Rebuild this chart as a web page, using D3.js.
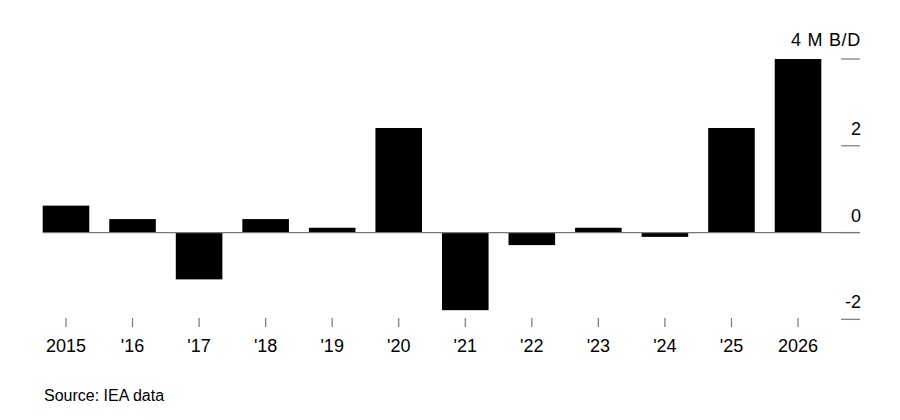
<!DOCTYPE html>
<html>
<head>
<meta charset="utf-8">
<script src="https://cdn.jsdelivr.net/npm/d3@7"></script>
<style>
  html, body { margin: 0; padding: 0; background: #fff; }
  svg { display: block; font-family: "Liberation Sans", Arial, Helvetica, sans-serif; }
</style>
</head>
<body>
<svg id="chart" width="900" height="420"></svg>
<script>
const years = ["2015", "'16", "'17", "'18", "'19", "'20", "'21", "'22", "'23", "'24", "'25", "2026"];
const values = [0.62, 0.31, -1.08, 0.31, 0.11, 2.41, -1.79, -0.29, 0.11, -0.1, 2.41, 4.0];
const yTicks = [4, 2, 0, -2];
const yTickLabels = ["4 M B/D", "2", "0", "-2"];
const source = "Source: IEA data";

const svg = d3.select("#chart");

const x = d3.scaleBand().domain(years).range([42.7, 821.3]).paddingInner(0.3).paddingOuter(0);
const y = d3.scaleLinear().domain([-2, 4]).range([319.3, 59]);

// bars
svg.append("g").selectAll("rect").data(values).join("rect")
  .attr("x", (d, i) => x(years[i]))
  .attr("width", x.bandwidth())
  .attr("y", d => y(Math.max(0, d)))
  .attr("height", d => Math.abs(y(d) - y(0)))
  .attr("fill", "#000");

// zero line
svg.append("line")
  .attr("x1", 42.7).attr("x2", 860)
  .attr("y1", y(0)).attr("y2", y(0))
  .attr("stroke", "#777").attr("stroke-width", 1.2);

// right y-axis ticks
const yg = svg.append("g");
yg.selectAll("line").data(yTicks).join("line")
  .attr("x1", 841).attr("x2", 860)
  .attr("y1", d => y(d)).attr("y2", d => y(d))
  .attr("stroke", "#777").attr("stroke-width", 1.2);
yg.selectAll("text").data(yTicks).join("text")
  .attr("x", 861)
  .attr("y", (d, i) => y(d) - (i === 0 ? 13 : 11))
  .attr("text-anchor", "end")
  .attr("font-size", 18)
  .attr("letter-spacing", (d, i) => i === 0 ? 0.7 : 0)
  .attr("fill", "#000")
  .text((d, i) => yTickLabels[i]);

// x-axis ticks and labels
const xg = svg.append("g");
xg.selectAll("line").data(years).join("line")
  .attr("x1", d => x(d) + x.bandwidth() / 2)
  .attr("x2", d => x(d) + x.bandwidth() / 2)
  .attr("y1", 318).attr("y2", 327)
  .attr("stroke", "#777").attr("stroke-width", 1.2);
xg.selectAll("text").data(years).join("text")
  .attr("x", d => x(d) + x.bandwidth() / 2)
  .attr("y", 352)
  .attr("text-anchor", "middle")
  .attr("font-size", 18)
  .attr("fill", "#000")
  .text(d => d);

svg.append("text")
  .attr("x", 44).attr("y", 401)
  .attr("font-size", 16)
  .attr("fill", "#000")
  .text(source);
</script>
</body>
</html>
